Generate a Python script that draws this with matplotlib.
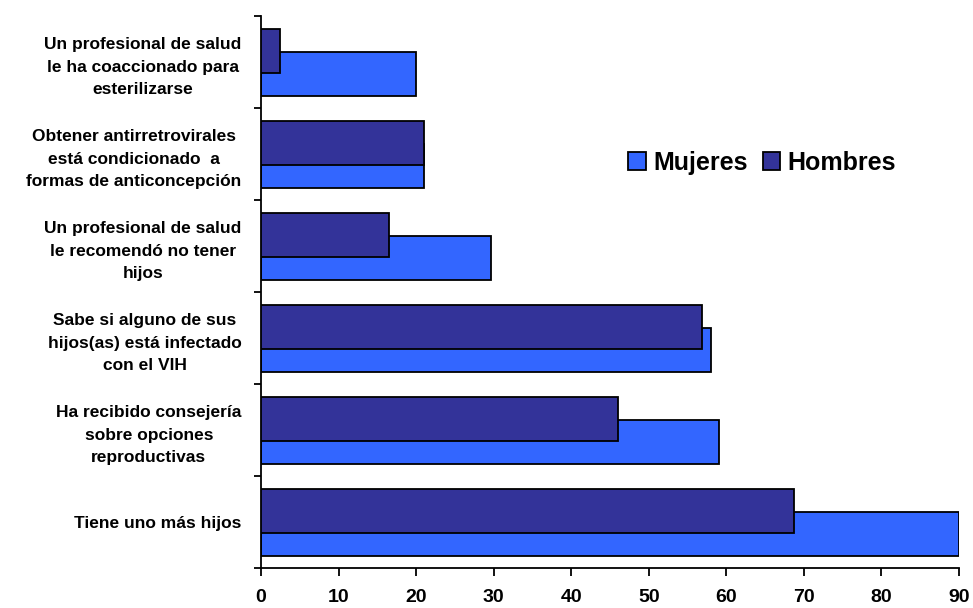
import numpy as np
import matplotlib.pyplot as plt

plt.rcParams['font.family'] = ['Liberation Sans', 'DejaVu Sans']
plt.rcParams['font.weight'] = 'bold'

# categorías (de arriba hacia abajo)
categorias = [
    "Un profesional de salud\nle ha coaccionado para\nesterilizarse",
    "Obtener antirretrovirales\nestá condicionado  a\nformas de anticoncepción",
    "Un profesional de salud\nle recomendó no tener\nhijos",
    "Sabe si alguno de sus\nhijos(as) está infectado\ncon el VIH",
    "Ha recibido consejería\nsobre opciones\nreproductivas",
    "Tiene uno más hijos",
]
mujeres = [20, 21, 29.7, 58, 59, 90]
hombres = [2.5, 21, 16.5, 56.9, 46, 68.7]

col_muj = '#3366FF'
col_hom = '#333399'

fig = plt.figure(figsize=(9.73, 6.08), dpi=100)
ax = fig.add_axes([261/973, 40/608, (959-261)/973, (568-16)/608])

n = len(categorias)
y = np.arange(n)[::-1]  # primera categoría arriba
h = 0.48

ax.barh(y - 0.13, mujeres, height=h, color=col_muj, edgecolor='black', linewidth=1.3, label='Mujeres', zorder=2)
ax.barh(y + 0.12, hombres, height=h, color=col_hom, edgecolor='black', linewidth=1.3, label='Hombres', zorder=3)

ax.set_xlim(0, 90)
ax.set_ylim(-0.5, n - 0.5)
ax.set_xticks(np.arange(0, 91, 10))
ax.tick_params(axis='x', labelsize=14, length=6, width=1.3, direction='out', pad=9)

# ticks en los límites de categoría, etiquetas en el centro
ax.set_yticks(np.arange(-0.5, n, 1.0))
ax.set_yticklabels([])
ax.tick_params(axis='y', which='major', length=5, width=1.3, direction='out')
ax.set_yticks(y, minor=True)
ax.set_yticklabels(categorias, minor=True, fontsize=12.5, multialignment='center')
ax.tick_params(axis='y', which='minor', length=0, pad=14)
for lbl in ax.get_yticklabels(minor=True):
    lbl.set_linespacing(1.6)

for s in ['top', 'right']:
    ax.spines[s].set_visible(False)
for s in ['left', 'bottom']:
    ax.spines[s].set_linewidth(1.3)

ax.legend(loc='center', bbox_to_anchor=(0.718, 0.734), ncol=2, frameon=False,
          handlelength=0.7, handleheight=0.7, handletextpad=0.3,
          columnspacing=0.6, prop={'weight': 'bold', 'size': 18})

fig.savefig('out.png', dpi=100)
